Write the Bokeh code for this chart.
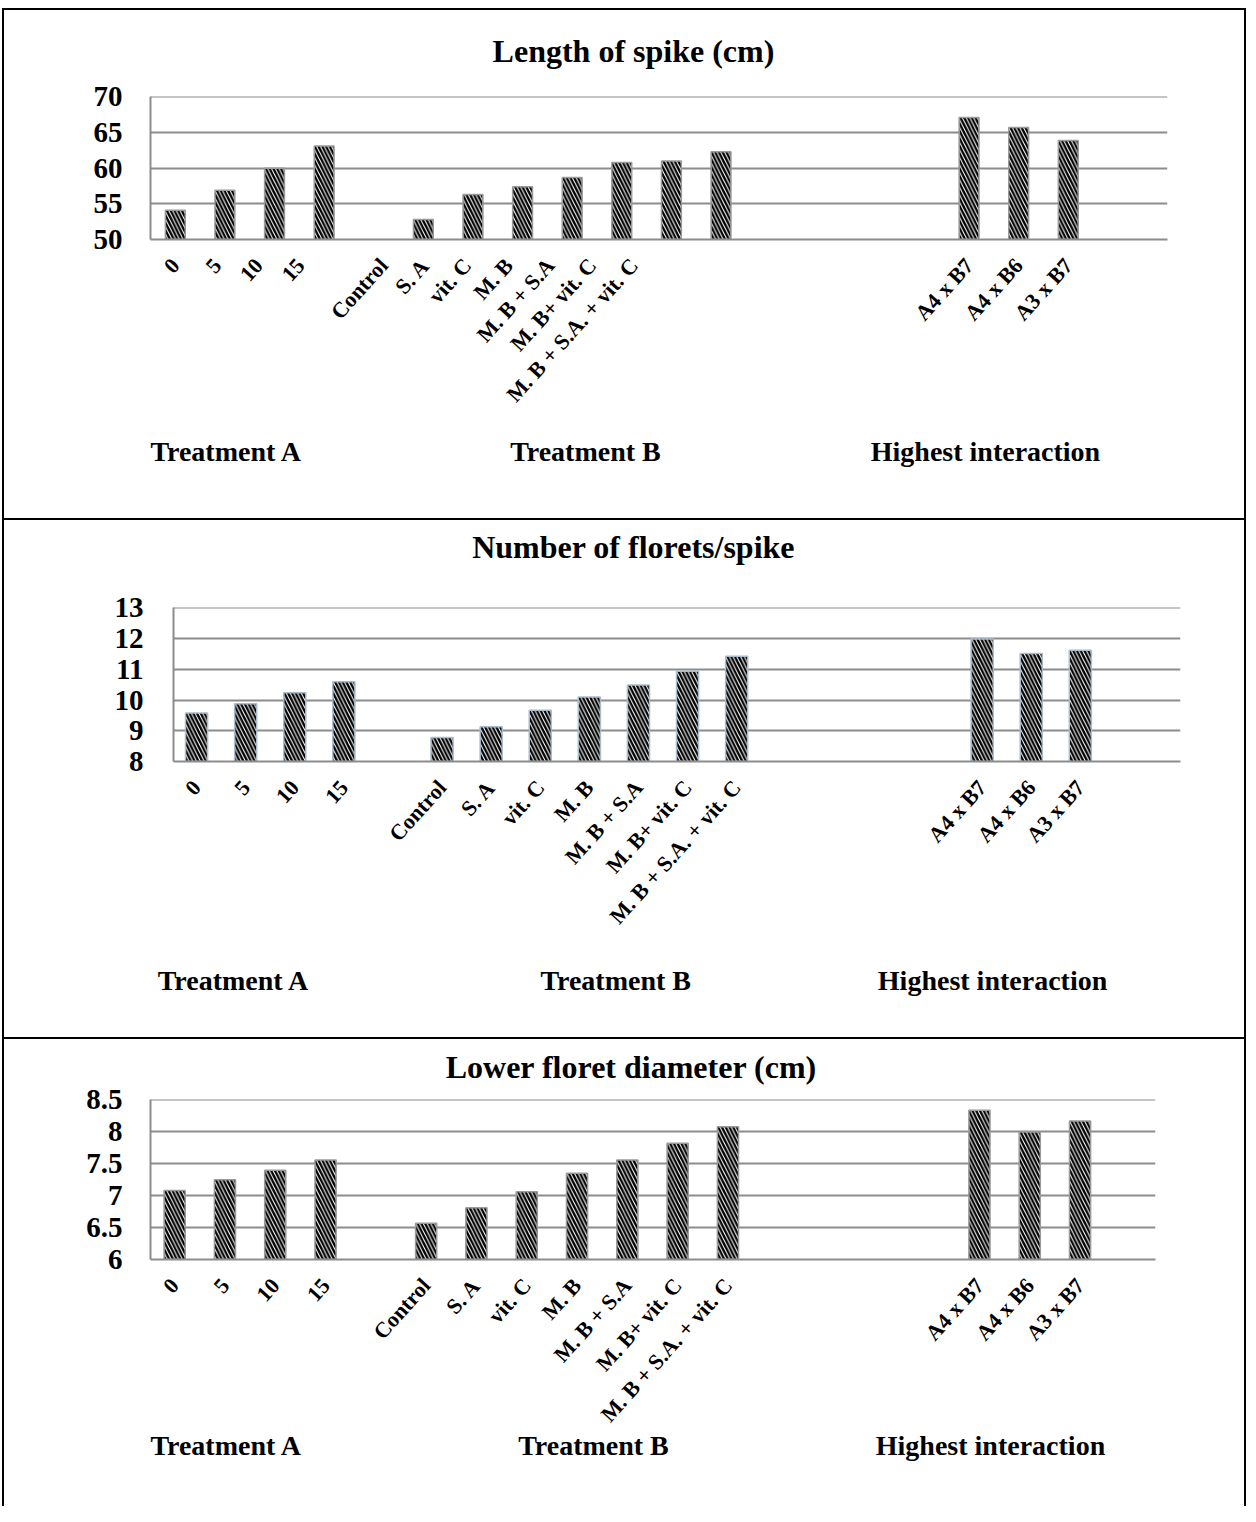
import math
from bokeh.plotting import figure
from bokeh.layouts import column
from bokeh.models import ColumnDataSource, FixedTicker, Range1d, Div, NumeralTickFormatter, LinearAxis
from bokeh.embed import file_html
from bokeh.resources import INLINE

# ---------------- data ----------------
treat_a = ["0", "5", "10", "15"]
treat_b = ["Control", "S. A", "vit. C", "M. B", "M. B + S.A", "M. B+ vit. C", "M. B + S.A. + vit. C"]
interaction = ["A4 x B7", "A4 x B6", "A3 x B7"]
group_names = ["Treatment A", "Treatment B", "Highest interaction"]

spike_a = [54.1, 56.9, 60.0, 63.1]
spike_b = [52.8, 56.3, 57.4, 58.7, 60.8, 61.0, 62.3]
spike_i = [67.1, 65.7, 63.9]

florets_a = [9.58, 9.88, 10.24, 10.60]
florets_b = [8.78, 9.13, 9.67, 10.10, 10.49, 10.94, 11.43]
florets_i = [11.99, 11.52, 11.62]

diam_a = [7.08, 7.25, 7.40, 7.56]
diam_b = [6.57, 6.81, 7.06, 7.35, 7.56, 7.82, 8.08]
diam_i = [8.34, 8.00, 8.17]

spike_ticks = [50, 55, 60, 65, 70]
florets_ticks = [8, 9, 10, 11, 12, 13]
diam_ticks = [6, 6.5, 7, 7.5, 8, 8.5]

titles = ["Length of spike (cm)", "Number of florets/spike", "Lower floret diameter (cm)"]

# ---------------- layout ----------------
FONT = "Liberation Serif"
W = 1240
LEFT = 4
GRID = "#8c8c8c"

# category slots: group A, one empty slot, group B, four empty slots, interactions
slots_ab = list(range(len(treat_a))) + [5 + i for i in range(len(treat_b))]
slots_i = [16 + i for i in range(len(interaction))]
xs = slots_ab + slots_i
names = treat_a + treat_b + interaction


def text_axis(ticks, labels, size, standoff):
    ax = LinearAxis(ticker=FixedTicker(ticks=ticks),
                    major_label_overrides={t: s for t, s in zip(ticks, labels)})
    ax.axis_line_color = None
    ax.major_tick_line_color = None
    ax.minor_tick_line_color = None
    ax.major_label_text_font = FONT
    ax.major_label_text_font_style = "bold"
    ax.major_label_text_font_size = size
    ax.major_label_text_color = "black"
    ax.major_label_standoff = standoff
    return ax


def panel(title, a, b, i, ticks, top, height, frame, xr, bar_w, edge,
          title_x, title_standoff, group_px, group_standoff, label_squeeze=1.0,
          ylab_standoff=22, fmt=None):
    fl, fr, ft, fb = frame
    ymin, ymax = ticks[0], ticks[-1]
    p = figure(width=W, height=height, output_backend="svg", toolbar_location=None,
               title=None,
               x_range=Range1d(*xr), y_range=Range1d(ymin, ymax + 0.003 * (ymax - ymin)),
               min_border_left=round(fl - LEFT), min_border_right=round(LEFT + W - fr),
               min_border_top=round(ft - top), min_border_bottom=round(top + height - fb))
    p.frame_align = False
    p.outline_line_color = None
    p.background_fill_color = "white"
    p.border_fill_color = "white"
    p.xgrid.visible = False
    p.ygrid.ticker = FixedTicker(ticks=ticks)
    p.ygrid.grid_line_color = GRID
    p.ygrid.grid_line_width = 2

    def px_to_x(px):
        return round(xr[0] + (px - fl) / (fr - fl) * (xr[1] - xr[0]), 3)

    src = ColumnDataSource(dict(x=xs, top=a + b + i))
    p.vbar(x="x", top="top", bottom=ymin, width=bar_w, source=src,
           fill_color="white", line_color=edge, line_width=1.5,
           hatch_pattern="left_diagonal_line", hatch_color="black",
           hatch_scale=7.5, hatch_weight=2.3)

    ya = p.yaxis[0]
    ya.ticker = FixedTicker(ticks=ticks)
    if fmt:
        ya.formatter = NumeralTickFormatter(format=fmt)
    ya.axis_line_color = GRID
    ya.axis_line_width = 2
    ya.major_tick_line_color = None
    ya.minor_tick_line_color = None
    ya.major_label_text_font = FONT
    ya.major_label_text_font_style = "bold"
    ya.major_label_text_font_size = "29px"
    ya.major_label_text_color = "black"
    ya.major_label_standoff = ylab_standoff

    # category labels (first panel's labels sit on a slightly tighter pitch)
    label_pos = [round(s * label_squeeze, 3) for s in slots_ab] + slots_i
    xa = p.xaxis[0]
    xa.ticker = FixedTicker(ticks=label_pos)
    xa.major_label_overrides = {x: n for x, n in zip(label_pos, names)}
    xa.axis_line_color = GRID
    xa.axis_line_width = 2
    xa.major_tick_line_color = None
    xa.minor_tick_line_color = None
    xa.major_label_orientation = math.radians(48)
    xa.major_label_text_font = FONT
    xa.major_label_text_font_style = "bold"
    xa.major_label_text_font_size = "22px"
    xa.major_label_text_color = "black"
    xa.major_label_standoff = 16

    # chart title and group captions
    p.add_layout(text_axis([px_to_x(title_x)], [title], "32px", title_standoff), "above")
    p.add_layout(text_axis([px_to_x(g) for g in group_px], group_names, "28px", group_standoff), "below")
    return p


p1 = panel(titles[0], spike_a, spike_b, spike_i, spike_ticks, 10, 508,
           (150, 1167, 95.7, 239.3), (-0.5, 20.0), 0.4, "#9a9a9a",
           633, 22, [226, 585, 985], 12, label_squeeze=0.84)
p2 = panel(titles[1], florets_a, florets_b, florets_i, florets_ticks, 520, 517,
           (172.7, 1180, 606.7, 760.7), (-0.47, 20.04), 0.45, "#a9bccf",
           633, 37, [233, 615, 992], 19, ylab_standoff=24)
p3 = panel(titles[2], diam_a, diam_b, diam_i, diam_ticks, 1039, 467,
           (150, 1155, 1099, 1259.3), (-0.48, 19.5), 0.42, "#9a9a9a",
           631, 9, [226, 593, 990], -14, fmt="0.[0]")


def sep():
    return Div(width=W, height=2, margin=0, styles={"background-color": "black"})


inner = column(p1, sep(), p2, sep(), p3, spacing=0,
               styles={"border-left": "2px solid black", "border-right": "2px solid black",
                       "border-top": "2px solid black"})
layout = column(inner, spacing=0, styles={"padding": "8px 0px 0px 2px"})

open("out.html", "w").write(file_html(layout, INLINE))
